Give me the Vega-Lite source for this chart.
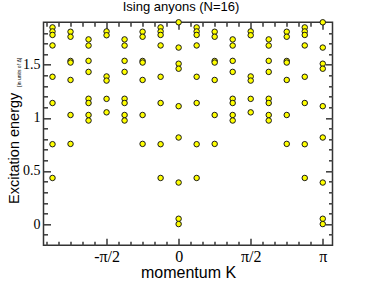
{
 "$schema": "https://vega.github.io/schema/vega-lite/v6.json",
 "width": 289, "height": 223,
 "autosize": "none",
 "padding": {"left": 43.5, "top": 22.3, "right": 41.5, "bottom": 43.7},
 "title": {"text": "Ising anyons (N=16)", "font": "Liberation Sans", "fontSize": 13, "fontWeight": "normal", "anchor": "middle", "frame": "group", "baseline": "alphabetic", "offset": -6, "dx": -7, "color": "#000"},
 "data": {"values": [
  {"k": -0.875, "E": 1.852}, {"k": -0.875, "E": 1.814}, {"k": -0.875, "E": 1.781}, {"k": -0.875, "E": 1.682}, {"k": -0.875, "E": 1.387}, {"k": -0.875, "E": 1.140}, {"k": -0.875, "E": 0.752}, {"k": -0.875, "E": 0.434},
  {"k": -0.75, "E": 1.811}, {"k": -0.75, "E": 1.764}, {"k": -0.75, "E": 1.536}, {"k": -0.75, "E": 1.521}, {"k": -0.75, "E": 1.357}, {"k": -0.75, "E": 1.027}, {"k": -0.75, "E": 0.755},
  {"k": -0.625, "E": 1.739}, {"k": -0.625, "E": 1.681}, {"k": -0.625, "E": 1.537}, {"k": -0.625, "E": 1.433}, {"k": -0.625, "E": 1.180}, {"k": -0.625, "E": 1.140}, {"k": -0.625, "E": 1.027}, {"k": -0.625, "E": 0.975},
  {"k": -0.5, "E": 1.814}, {"k": -0.5, "E": 1.778}, {"k": -0.5, "E": 1.390}, {"k": -0.5, "E": 1.351}, {"k": -0.5, "E": 1.179}, {"k": -0.5, "E": 1.052},
  {"k": -0.375, "E": 1.739}, {"k": -0.375, "E": 1.681}, {"k": -0.375, "E": 1.537}, {"k": -0.375, "E": 1.433}, {"k": -0.375, "E": 1.180}, {"k": -0.375, "E": 1.140}, {"k": -0.375, "E": 1.027}, {"k": -0.375, "E": 0.975},
  {"k": -0.25, "E": 1.811}, {"k": -0.25, "E": 1.764}, {"k": -0.25, "E": 1.536}, {"k": -0.25, "E": 1.521}, {"k": -0.25, "E": 1.357}, {"k": -0.25, "E": 1.027}, {"k": -0.25, "E": 0.755},
  {"k": -0.125, "E": 1.852}, {"k": -0.125, "E": 1.814}, {"k": -0.125, "E": 1.781}, {"k": -0.125, "E": 1.682}, {"k": -0.125, "E": 1.387}, {"k": -0.125, "E": 1.140}, {"k": -0.125, "E": 0.752}, {"k": -0.125, "E": 0.434},
  {"k": 0, "E": 1.900}, {"k": 0, "E": 1.662}, {"k": 0, "E": 1.510}, {"k": 0, "E": 1.463}, {"k": 0, "E": 1.110}, {"k": 0, "E": 0.815}, {"k": 0, "E": 0.391}, {"k": 0, "E": 0.050}, {"k": 0, "E": 0.0},
  {"k": 0.125, "E": 1.852}, {"k": 0.125, "E": 1.814}, {"k": 0.125, "E": 1.781}, {"k": 0.125, "E": 1.682}, {"k": 0.125, "E": 1.387}, {"k": 0.125, "E": 1.140}, {"k": 0.125, "E": 0.752}, {"k": 0.125, "E": 0.434},
  {"k": 0.25, "E": 1.811}, {"k": 0.25, "E": 1.764}, {"k": 0.25, "E": 1.536}, {"k": 0.25, "E": 1.521}, {"k": 0.25, "E": 1.357}, {"k": 0.25, "E": 1.027}, {"k": 0.25, "E": 0.755},
  {"k": 0.375, "E": 1.739}, {"k": 0.375, "E": 1.681}, {"k": 0.375, "E": 1.537}, {"k": 0.375, "E": 1.433}, {"k": 0.375, "E": 1.180}, {"k": 0.375, "E": 1.140}, {"k": 0.375, "E": 1.027}, {"k": 0.375, "E": 0.975},
  {"k": 0.5, "E": 1.814}, {"k": 0.5, "E": 1.778}, {"k": 0.5, "E": 1.390}, {"k": 0.5, "E": 1.351}, {"k": 0.5, "E": 1.179}, {"k": 0.5, "E": 1.052},
  {"k": 0.625, "E": 1.739}, {"k": 0.625, "E": 1.681}, {"k": 0.625, "E": 1.537}, {"k": 0.625, "E": 1.433}, {"k": 0.625, "E": 1.180}, {"k": 0.625, "E": 1.140}, {"k": 0.625, "E": 1.027}, {"k": 0.625, "E": 0.975},
  {"k": 0.75, "E": 1.811}, {"k": 0.75, "E": 1.764}, {"k": 0.75, "E": 1.536}, {"k": 0.75, "E": 1.521}, {"k": 0.75, "E": 1.357}, {"k": 0.75, "E": 1.027}, {"k": 0.75, "E": 0.755},
  {"k": 0.875, "E": 1.852}, {"k": 0.875, "E": 1.814}, {"k": 0.875, "E": 1.781}, {"k": 0.875, "E": 1.682}, {"k": 0.875, "E": 1.387}, {"k": 0.875, "E": 1.140}, {"k": 0.875, "E": 0.752}, {"k": 0.875, "E": 0.434},
  {"k": 1, "E": 1.900}, {"k": 1, "E": 1.662}, {"k": 1, "E": 1.510}, {"k": 1, "E": 1.463}, {"k": 1, "E": 1.110}, {"k": 1, "E": 0.815}, {"k": 1, "E": 0.391}, {"k": 1, "E": 0.050}, {"k": 1, "E": 0.0}
 ]},
 "config": {
  "view": {"stroke": "#333", "strokeWidth": 1.5},
  "axis": {"grid": false, "domain": false, "ticks": true, "tickColor": "#444", "tickWidth": 1.6, "tickOpacity": 1, "zindex": 1, "labelFont": "Liberation Serif", "labelColor": "#000", "titleFont": "Liberation Sans", "titleFontWeight": "normal", "titleColor": "#000", "labelFlush": false, "labelOverlap": false}
 },
 "layer": [
  {
   "mark": {"type": "point", "shape": "circle", "filled": true, "fill": "#ffff00", "stroke": "#1a1a1a", "strokeWidth": 1, "size": 30, "opacity": 1},
   "encoding": {
    "x": {"field": "k", "type": "quantitative", "scale": {"domain": [-0.9375, 1.0675], "nice": false, "zero": false},
     "axis": {"orient": "bottom", "offset": -7, "values": [-0.5, 0, 0.5, 1], "labelExpr": "datum.value == 0 ? '0' : datum.value == 1 ? 'π' : datum.value == 0.5 ? 'π/2' : '-π/2'", "tickSize": 7, "labelPadding": 3, "labelFontSize": 16, "title": "momentum K", "titleFontSize": 16, "titleY": 39, "titleBaseline": "alphabetic"}},
    "y": {"field": "E", "type": "quantitative", "scale": {"domain": [-0.2, 1.9], "nice": false, "zero": false},
     "axis": {"orient": "left", "offset": -7, "values": [0, 0.5, 1, 1.5], "format": "~g", "tickSize": 7, "labelPadding": 3.5, "labelFontSize": 14, "title": "Excitation energy", "titleFontSize": 14.5, "titleX": -32.5, "titleY": 125.5, "titleAngle": -90, "titleBaseline": "alphabetic", "titleAlign": "center"}}
   }
  },
  {
   "mark": {"type": "point", "opacity": 0},
   "encoding": {
    "x": {"field": "k", "type": "quantitative", "scale": {"domain": [-0.9375, 1.0675], "nice": false, "zero": false},
     "axis": {"orient": "bottom", "offset": -4, "values": [-0.9167, -0.8333, -0.75, -0.6667, -0.5833, -0.4167, -0.3333, -0.25, -0.1667, -0.0833, 0.0833, 0.1667, 0.25, 0.3333, 0.4167, 0.5833, 0.6667, 0.75, 0.8333, 0.9167], "labels": false, "tickSize": 4, "title": null}},
    "y": {"field": "E", "type": "quantitative", "scale": {"domain": [-0.2, 1.9], "nice": false, "zero": false},
     "axis": {"orient": "left", "offset": -4, "values": [-0.1, 0.1, 0.2, 0.3, 0.4, 0.6, 0.7, 0.8, 0.9, 1.1, 1.2, 1.3, 1.4, 1.6, 1.7, 1.8], "labels": false, "tickSize": 4, "title": "[in units of Δ]", "titleFontSize": 5, "titleX": -27, "titleY": 49.5, "titleAngle": -90, "titleBaseline": "alphabetic", "titleAlign": "center"}}
   }
  },
  {
   "mark": {"type": "point", "opacity": 0},
   "encoding": {
    "x": {"field": "k", "type": "quantitative", "scale": {"domain": [-0.9375, 1.0675], "nice": false, "zero": false},
     "axis": {"orient": "top", "offset": -7, "values": [-0.5, 0, 0.5, 1], "labels": false, "tickSize": 7, "title": null}},
    "y": {"field": "E", "type": "quantitative", "scale": {"domain": [-0.2, 1.9], "nice": false, "zero": false},
     "axis": {"orient": "right", "offset": -7, "values": [0, 0.5, 1, 1.5], "labels": false, "tickSize": 7, "title": null}}
   }
  },
  {
   "mark": {"type": "point", "opacity": 0},
   "encoding": {
    "x": {"field": "k", "type": "quantitative", "scale": {"domain": [-0.9375, 1.0675], "nice": false, "zero": false},
     "axis": {"orient": "top", "offset": -4, "values": [-0.9167, -0.8333, -0.75, -0.6667, -0.5833, -0.4167, -0.3333, -0.25, -0.1667, -0.0833, 0.0833, 0.1667, 0.25, 0.3333, 0.4167, 0.5833, 0.6667, 0.75, 0.8333, 0.9167], "labels": false, "tickSize": 4, "title": null}},
    "y": {"field": "E", "type": "quantitative", "scale": {"domain": [-0.2, 1.9], "nice": false, "zero": false},
     "axis": {"orient": "right", "offset": -4, "values": [-0.1, 0.1, 0.2, 0.3, 0.4, 0.6, 0.7, 0.8, 0.9, 1.1, 1.2, 1.3, 1.4, 1.6, 1.7, 1.8], "labels": false, "tickSize": 4, "title": null}}
   }
  }
 ],
 "resolve": {"axis": {"x": "independent", "y": "independent"}}
}
